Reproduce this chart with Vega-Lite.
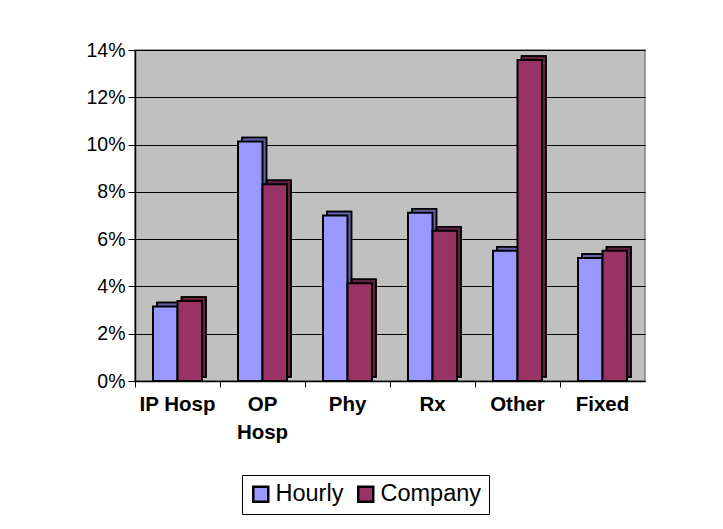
{
  "$schema": "https://vega.github.io/schema/vega-lite/v6.json",
  "width": 510,
  "height": 331,
  "autosize": "none",
  "padding": {"left": 135, "top": 50, "right": 78, "bottom": 148},
  "background": "white",
  "config": {
    "font": "Liberation Sans",
    "view": {"fill": "#C0C0C0", "stroke": "#808080", "strokeWidth": 1.5}
  },
  "data": {
    "values": [
      {"category": "IP Hosp", "series": "Hourly", "value": 0.0315},
      {"category": "IP Hosp", "series": "Company", "value": 0.0338},
      {"category": "OP Hosp", "series": "Hourly", "value": 0.1013},
      {"category": "OP Hosp", "series": "Company", "value": 0.0832},
      {"category": "Phy", "series": "Hourly", "value": 0.0700},
      {"category": "Phy", "series": "Company", "value": 0.0413},
      {"category": "Rx", "series": "Hourly", "value": 0.0712},
      {"category": "Rx", "series": "Company", "value": 0.0636},
      {"category": "Other", "series": "Hourly", "value": 0.0551},
      {"category": "Other", "series": "Company", "value": 0.1358},
      {"category": "Fixed", "series": "Hourly", "value": 0.0520},
      {"category": "Fixed", "series": "Company", "value": 0.0551}
    ]
  },
  "encoding": {
    "x": {
      "field": "category",
      "type": "nominal",
      "sort": null,
      "scale": {"paddingInner": 0, "paddingOuter": 0},
      "axis": {
        "title": null,
        "labelAngle": 0,
        "bandPosition": 0,
        "domainColor": "black",
        "domainWidth": 1.5,
        "tickColor": "black",
        "tickSize": 6,
        "labelFontSize": 20.5,
        "labelFontWeight": "bold",
        "labelColor": "black",
        "labelPadding": 7,
        "labelLineHeight": 28,
        "labelExpr": "datum.label == 'OP Hosp' ? ['OP', 'Hosp'] : datum.label"
      }
    },
    "y": {
      "field": "value",
      "type": "quantitative",
      "scale": {"domain": [0, 0.14], "nice": false},
      "axis": {
        "title": null,
        "values": [0, 0.02, 0.04, 0.06, 0.08, 0.1, 0.12, 0.14],
        "format": ".0%",
        "grid": true,
        "gridColor": "black",
        "gridWidth": 1,
        "domainColor": "black",
        "domainWidth": 1.5,
        "tickColor": "black",
        "tickSize": 7,
        "labelFontSize": 19.5,
        "labelColor": "black",
        "labelPadding": 3
      }
    }
  },
  "resolve": {"scale": {"xOffset": "independent"}},
  "layer": [
    {
      "mark": {"type": "bar", "yOffset": -4, "stroke": "black", "strokeWidth": 1.5},
      "encoding": {
        "xOffset": {
          "field": "series",
          "type": "nominal",
          "sort": ["Hourly", "Company"],
          "scale": {"paddingInner": 0, "paddingOuter": 0.735, "range": [4, 89]}
        },
        "color": {
          "field": "series",
          "type": "nominal",
          "scale": {"domain": ["Hourly", "Company"], "range": ["#9999FF", "#993366"]},
          "legend": {
            "title": null,
            "orient": "none",
            "legendX": 107,
            "legendY": 425,
            "direction": "horizontal",
            "strokeColor": "black",
            "padding": 7,
            "symbolType": "square",
            "symbolSize": 225,
            "symbolStrokeColor": "black",
            "symbolStrokeWidth": 2.5,
            "symbolOpacity": 1,
            "labelFontSize": 23.5,
            "labelColor": "black",
            "labelOffset": 3,
            "columnPadding": 9
          }
        }
      }
    },
    {
      "mark": {"type": "bar", "yOffset": -4, "fill": "black", "fillOpacity": 0.35, "stroke": "black", "strokeWidth": 1.5},
      "encoding": {
        "xOffset": {
          "field": "series",
          "type": "nominal",
          "sort": ["Hourly", "Company"],
          "scale": {"paddingInner": 0, "paddingOuter": 0.735, "range": [4, 89]}
        }
      }
    },
    {
      "mark": {"type": "bar", "stroke": "black", "strokeWidth": 2},
      "encoding": {
        "xOffset": {
          "field": "series",
          "type": "nominal",
          "sort": ["Hourly", "Company"],
          "scale": {"paddingInner": 0, "paddingOuter": 0.735}
        },
        "color": {
          "field": "series",
          "type": "nominal"
        }
      }
    }
  ]
}
